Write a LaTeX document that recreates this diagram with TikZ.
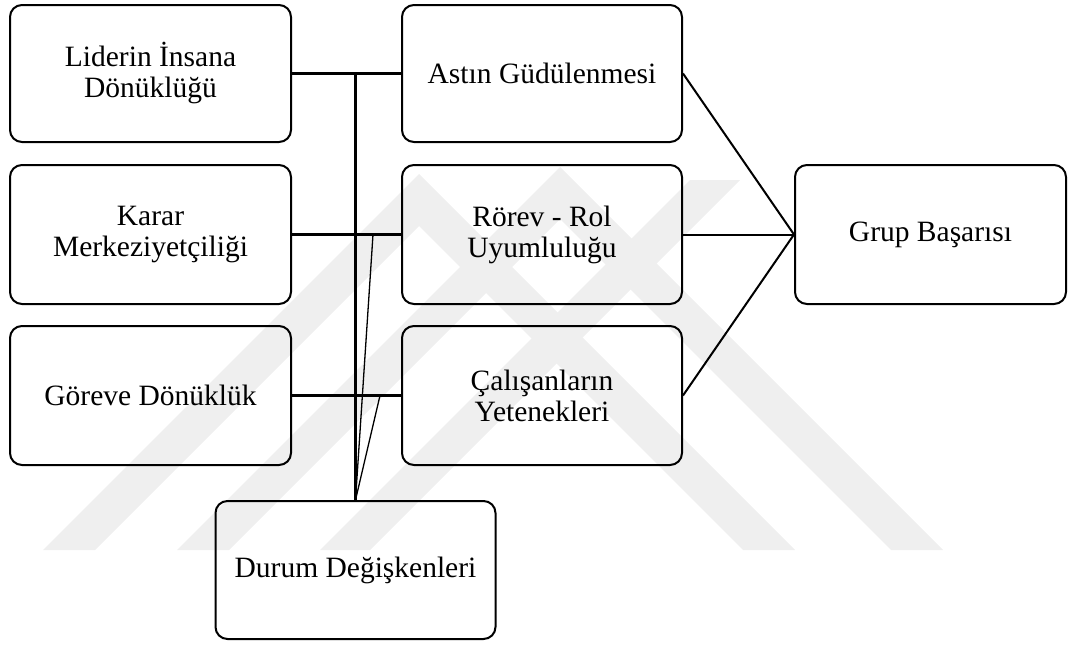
\documentclass[tikz,border=0pt]{standalone}
\usepackage{fontspec}
\setmainfont{Liberation Serif}
\definecolor{wm}{HTML}{EFEFEF}
\begin{document}
\begin{tikzpicture}[x=1pt,y=-1pt,
  box/.style={draw=black, line width=2pt, rounded corners=12pt, fill=none,
    align=center, inner sep=0pt, font=\fontsize{29.5}{31}\selectfont},
  lbox/.style={box, minimum width=281pt},
  mbox/.style={box, minimum width=280pt},
  thick3/.style={line width=3pt},
  thin1/.style={line width=1.3pt},
  right2/.style={line width=2pt}]
\useasboundingbox (0,0) rectangle (1070,645);
% watermark
\fill[wm] (43,550) -- (419,174) -- (795,550) -- (743,550) -- (419,226) -- (95,550) -- cycle;
\fill[wm] (177,550) -- (560,167) -- (943,550) -- (891,550) -- (560,219) -- (229,550) -- cycle;
\fill[wm] (320,550) -- (690,180) -- (740,180) -- (370,550) -- cycle;
% boxes
\node[lbox, minimum height=137pt] (lid) at (150.5,73.5) {Liderin İnsana\\Dönüklüğü};
\node[lbox, minimum height=139pt] (kar) at (150.5,234.5) {Karar\\Merkeziyetçiliği};
\node[lbox, minimum height=139pt] (gor) at (150.5,395.5) {Göreve Dönüklük};
\node[mbox, minimum height=137pt] (ast) at (542,73.5) {Astın Güdülenmesi};
\node[mbox, minimum height=139pt] (ror) at (542,234.5) {Rörev - Rol\\Uyumluluğu};
\node[mbox, minimum height=139pt] (cal) at (542,395.5) {Çalışanların\\Yetenekleri};
\node[box, minimum width=271pt, minimum height=139pt] (grp) at (930.5,234.5) {Grup Başarısı};
\node[box, minimum width=280pt, minimum height=138pt] (dur) at (355.5,570) {Durum Değişkenleri};
% helper coordinates
\coordinate (d2) at (373,234.5);
\coordinate (d3) at (380,395.5);
% connectors
\draw[thick3] (lid.east) -- (ast.west);
\draw[thick3] (kar.east) -- (ror.west);
\draw[thick3] (gor.east) -- (cal.west);
\draw[thick3] (dur.north) -- (dur.north |- lid.east);
\draw[thin1] (dur.north) -- (d2);
\draw[thin1] (dur.north) -- (d3);
\draw[right2] (ast.east) -- (grp.west);
\draw[right2] (ror.east) -- (grp.west);
\draw[right2] (cal.east) -- (grp.west);
\end{tikzpicture}
\end{document}
